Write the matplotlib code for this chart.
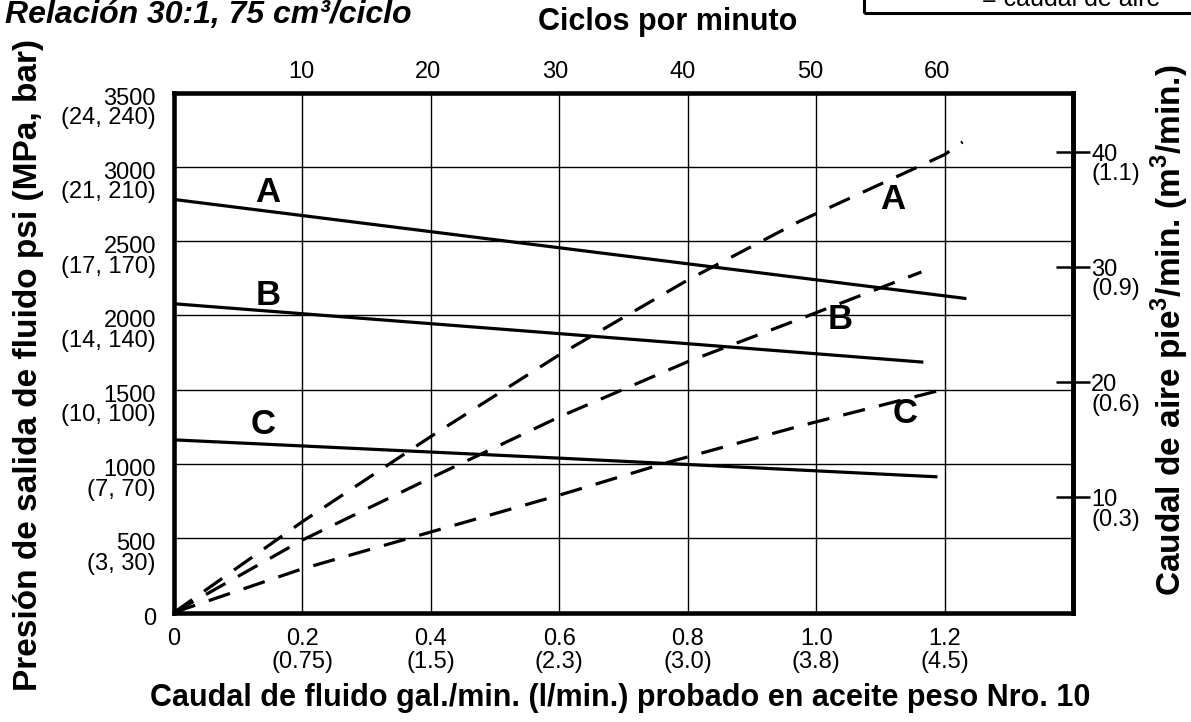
import numpy as np
import matplotlib.pyplot as plt
from matplotlib.patches import Rectangle
from matplotlib.transforms import ScaledTranslation

plt.rcParams['font.family'] = ['Liberation Sans', 'DejaVu Sans']
plt.rcParams['mathtext.fontset'] = 'custom'
plt.rcParams['mathtext.rm'] = 'Liberation Sans'
plt.rcParams['mathtext.bf'] = 'Liberation Sans:bold'

# presion de salida de fluido (psi) vs caudal de fluido (gal/min) - lineas continuas
gal_A = [0.0, 0.6, 1.234]
psi_A = [2780, 2455, 2113]
gal_B = [0.0, 0.6, 1.167]
psi_B = [2078, 1877, 1685]
gal_C = [0.0, 0.6, 1.189]
psi_C = [1162, 1039, 913]

# caudal de aire (pie3/min) vs caudal de fluido - lineas a trazos
aire_gal_A = [0.0, 0.2, 0.4, 0.6, 0.8, 0.974, 1.2, 1.228]
aire_A = [0, 7.9, 15.3, 22.4, 28.9, 34.0, 39.8, 40.9]
aire_gal_B = [0.0, 0.2, 0.4, 0.6, 0.8, 0.974, 1.164]
aire_B = [0, 6.3, 11.7, 17.0, 21.8, 25.5, 29.6]
aire_gal_C = [0.0, 0.2, 0.4, 0.6, 0.766, 0.974, 1.192]
aire_C = [0, 3.8, 7.0, 10.2, 13.0, 16.2, 19.3]

# ejes
psi_ticks = [0, 500, 1000, 1500, 2000, 2500, 3000, 3500]
psi_labels = ['0', '500\n(3, 30)', '1000\n(7, 70)', '1500\n(10, 100)',
              '2000\n(14, 140)', '2500\n(17, 170)', '3000\n(21, 210)',
              '3500\n(24, 240)']
gal_ticks = [0, 0.2, 0.4, 0.6, 0.8, 1.0, 1.2]
gal_labels = ['0', '0.2\n(0.75)', '0.4\n(1.5)', '0.6\n(2.3)', '0.8\n(3.0)',
              '1.0\n(3.8)', '1.2\n(4.5)']
aire_ticks = [10, 20, 30, 40]
aire_labels = ['10\n(0.3)', '20\n(0.6)', '30\n(0.9)', '40\n(1.1)']
ciclos = [10, 20, 30, 40, 50, 60]
gal_por_ciclo = 75 / 3785.41   # 75 cm3 por ciclo

W, H = 1191, 722
fig = plt.figure(figsize=(W / 100, H / 100), dpi=100)
ax = fig.add_axes([174 / W, 1 - 612.5 / H, 899 / W, 520 / H])
ax.set_xlim(0, 1.4)
ax.set_ylim(0, 3500)

for s in ax.spines.values():
    s.set_linewidth(3.3)

ax.grid(True, color='black', linewidth=1.0)
ax.set_axisbelow(True)

ax.set_xticks(gal_ticks)
ax.set_xticklabels(gal_labels, fontsize=17, linespacing=1.05)
ax.set_yticks(psi_ticks)
ax.set_yticklabels(psi_labels, fontsize=17, linespacing=0.85)
ax.tick_params(axis='x', length=0, pad=11)
ax.tick_params(axis='y', length=0, pad=13)
for lab in ax.get_yticklabels():
    lab.set_va('top')
    lab.set_transform(lab.get_transform() + ScaledTranslation(0, 3.5 / 72, fig.dpi_scale_trans))

# curvas de presion
kw = dict(color='black', linewidth=2.3, solid_capstyle='butt')
ax.plot(gal_A, psi_A, **kw)
ax.plot(gal_B, psi_B, **kw)
ax.plot(gal_C, psi_C, **kw)

letra = dict(fontsize=25, fontweight='bold', ha='center', va='center')
ax.text(0.146, 2827, 'A', **letra)
ax.text(0.146, 2133, 'B', **letra)
ax.text(0.139, 1264, 'C', **letra)
ax.text(1.119, 2780, 'A', **letra)
ax.text(1.037, 1971, 'B', **letra)
ax.text(1.138, 1338, 'C', **letra)

ax.set_xlabel('Caudal de fluido gal./min. (l/min.) probado en aceite peso Nro. 10',
              fontsize=22, fontweight='bold')
ax.xaxis.set_label_coords(0.496, -0.164)
ax.xaxis.label.set_va('center')
ax.set_ylabel('Presión de salida de fluido psi (MPa, bar)', fontsize=24, fontweight='bold')
ax.yaxis.set_label_coords(-0.162, 0.476)
ax.yaxis.label.set_va('center')

# eje derecho: caudal de aire
ax2 = ax.twinx()
ax2.set_ylim(0, 45.2)
for k in ['left', 'top', 'bottom']:
    ax2.spines[k].set_visible(False)
ax2.spines['right'].set_linewidth(3.3)
ax2.set_yticks(aire_ticks)
ax2.set_yticklabels(aire_labels, fontsize=17, linespacing=0.85)
ax2.tick_params(axis='y', direction='inout', length=24, width=1.8, pad=1)
for lab in ax2.get_yticklabels():
    lab.set_va('top')
    lab.set_transform(lab.get_transform() + ScaledTranslation(0, 6 / 72, fig.dpi_scale_trans))

dkw = dict(color='black', linewidth=2.3, linestyle=(0, (7, 4.5)))
ax2.plot(aire_gal_A, aire_A, **dkw)
ax2.plot(aire_gal_B, aire_B, **dkw)
ax2.plot(aire_gal_C, aire_C, **dkw)

ax2.set_ylabel(r'Caudal de aire pie$^\mathbf{3}$/min. (m$^\mathbf{3}$/min.)',
               fontsize=24, fontweight='bold')
ax2.yaxis.set_label_coords(1.108, 0.543)
ax2.yaxis.label.set_va('center')

# eje superior: ciclos por minuto
sec = ax.secondary_xaxis('top', functions=(lambda g: g / gal_por_ciclo,
                                          lambda c: c * gal_por_ciclo))
sec.set_xticks(ciclos)
sec.tick_params(length=0, pad=7, labelsize=17)
sec.spines['top'].set_visible(False)
sec.set_xlabel('Ciclos por minuto', fontsize=22, fontweight='bold')
sec.xaxis.set_label_coords(0.5495, 1.1356, transform=ax.transAxes)
sec.xaxis.label.set_va('center')

# titulo (cortado arriba en la imagen original)
fig.text(5 / W, 1 - 23 / H, 'Relación 30:1, 75 cm³/ciclo', fontsize=23,
         fontweight='bold', fontstyle='italic', va='baseline', ha='left')

# recuadro de leyenda (cortado)
fig.patches.append(Rectangle((864 / W, 1 - 13.3 / H), 0.5, 0.2, transform=fig.transFigure,
                             fill=False, edgecolor='black', linewidth=2.2))
fig.text(982 / W, 1 - 6 / H, '= caudal de aire', fontsize=18, va='baseline', ha='left')

fig.savefig('out.png', dpi=100)
